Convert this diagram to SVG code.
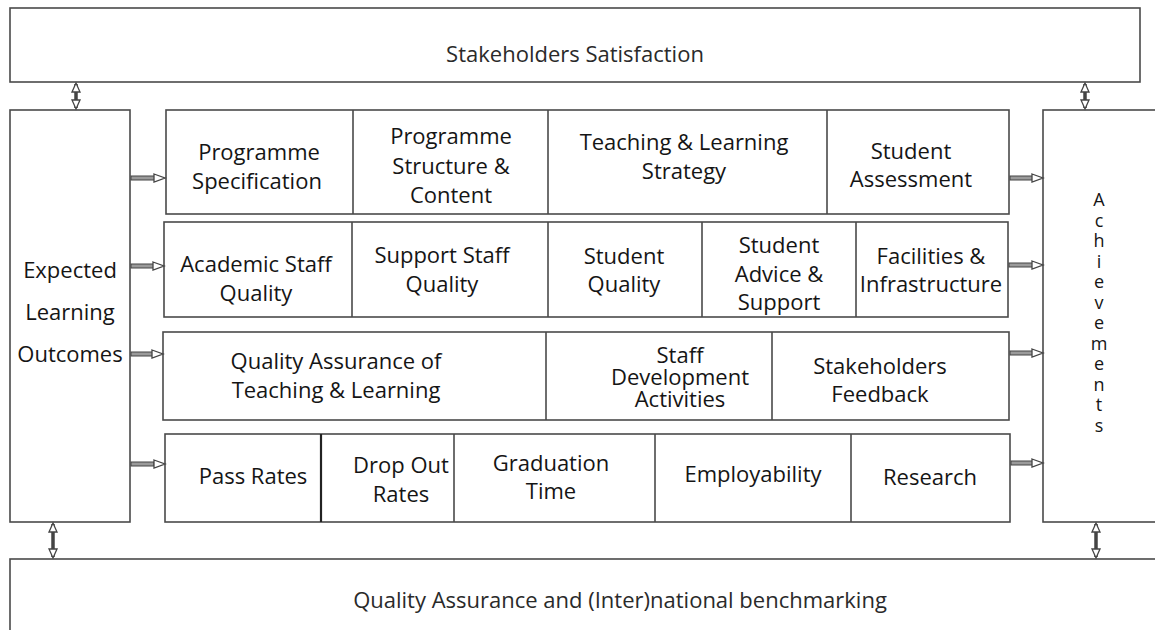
<svg xmlns="http://www.w3.org/2000/svg" width="1155" height="630" viewBox="0 0 1155 630">
<style>
.box{fill:#fff;stroke:#4a4a4a;stroke-width:1.6}
.div{stroke:#4a4a4a;stroke-width:1.6}
.t{font-family:"Open Sans","DejaVu Sans",sans-serif;font-size:22px;fill:#151515;text-anchor:middle}
.big{font-family:"Open Sans","DejaVu Sans",sans-serif;font-size:22px;fill:#2a2a2a;text-anchor:middle}
.v{font-family:"Open Sans","DejaVu Sans",sans-serif;font-size:18px;fill:#151515;text-anchor:middle}
.sh{fill:#9a9a9a;stroke:#444;stroke-width:1}
.hd{fill:#fff;stroke:#444;stroke-width:1.3}
.vs{stroke:#444;stroke-width:3.5}
</style>
<defs>
<marker id="vh" markerUnits="userSpaceOnUse" markerWidth="12" markerHeight="10" refX="9" refY="5" orient="auto-start-reverse" viewBox="0 0 12 10">
<path d="M1,1 L10,5 L1,9 Z" fill="#fff" stroke="#444" stroke-width="1.3"/>
</marker>
</defs>
<rect width="1155" height="630" fill="#fff"/>

<g id="stakeholders-satisfaction">
<rect class="box" x="10" y="8" width="1130" height="74"/>
<text class="big" x="575" y="62">Stakeholders Satisfaction</text>
</g>

<g id="expected-learning-outcomes">
<rect class="box" x="10" y="110" width="120" height="412"/>
<text class="t" x="70" y="278">Expected</text>
<text class="t" x="70" y="320">Learning</text>
<text class="t" x="70" y="362">Outcomes</text>
</g>

<g id="achievements">
<rect class="box" x="1043" y="110" width="140" height="412"/>
<text class="v" x="1099" y="206">A</text>
<text class="v" x="1099" y="227">c</text>
<text class="v" x="1099" y="247">h</text>
<text class="v" x="1099" y="268">i</text>
<text class="v" x="1099" y="288">e</text>
<text class="v" x="1099" y="309">v</text>
<text class="v" x="1099" y="329">e</text>
<text class="v" x="1099" y="350">m</text>
<text class="v" x="1099" y="370">e</text>
<text class="v" x="1099" y="391">n</text>
<text class="v" x="1099" y="411">t</text>
<text class="v" x="1099" y="432">s</text>
</g>

<g id="quality-assurance-benchmarking">
<rect class="box" x="10" y="559" width="1170" height="100"/>
<text class="big" x="620" y="608">Quality Assurance and (Inter)national benchmarking</text>
</g>

<g id="row1">
<rect class="box" x="166" y="110" width="843" height="104"/>
<line class="div" x1="353" y1="110" x2="353" y2="214"/>
<line class="div" x1="548" y1="110" x2="548" y2="214"/>
<line class="div" x1="827" y1="110" x2="827" y2="214"/>
<g id="programme-specification"><text class="t" x="259" y="160">Programme</text><text class="t" x="257" y="189">Specification</text></g>
<g id="programme-structure"><text class="t" x="451" y="144">Programme</text><text class="t" x="451" y="174">Structure &amp;</text><text class="t" x="451" y="203">Content</text></g>
<g id="teaching-learning-strategy"><text class="t" x="684" y="150">Teaching &amp; Learning</text><text class="t" x="684" y="179">Strategy</text></g>
<g id="student-assessment"><text class="t" x="911" y="159">Student</text><text class="t" x="911" y="187">Assessment</text></g>
</g>

<g id="row2">
<rect class="box" x="164" y="222" width="844" height="95"/>
<line class="div" x1="352" y1="222" x2="352" y2="317"/>
<line class="div" x1="548" y1="222" x2="548" y2="317"/>
<line class="div" x1="702" y1="222" x2="702" y2="317"/>
<line class="div" x1="856" y1="222" x2="856" y2="317"/>
<g id="academic-staff-quality"><text class="t" x="256" y="272">Academic Staff</text><text class="t" x="256" y="301">Quality</text></g>
<g id="support-staff-quality"><text class="t" x="442" y="263">Support Staff</text><text class="t" x="442" y="292">Quality</text></g>
<g id="student-quality"><text class="t" x="624" y="264">Student</text><text class="t" x="624" y="292">Quality</text></g>
<g id="student-advice-support"><text class="t" x="779" y="253">Student</text><text class="t" x="779" y="282">Advice &amp;</text><text class="t" x="779" y="310">Support</text></g>
<g id="facilities-infrastructure"><text class="t" x="931" y="264">Facilities &amp;</text><text class="t" x="931" y="292">Infrastructure</text></g>
</g>

<g id="row3">
<rect class="box" x="163" y="332" width="846" height="88"/>
<line class="div" x1="546" y1="332" x2="546" y2="420"/>
<line class="div" x1="772" y1="332" x2="772" y2="420"/>
<g id="qa-teaching-learning"><text class="t" x="336" y="369">Quality Assurance of</text><text class="t" x="336" y="398">Teaching &amp; Learning</text></g>
<g id="staff-development"><text class="t" x="680" y="363">Staff</text><text class="t" x="680" y="385">Development</text><text class="t" x="680" y="407">Activities</text></g>
<g id="stakeholders-feedback"><text class="t" x="880" y="374">Stakeholders</text><text class="t" x="880" y="402">Feedback</text></g>
</g>

<g id="row4">
<rect class="box" x="165" y="434" width="845" height="88"/>
<line class="div" x1="321" y1="434" x2="321" y2="522" style="stroke:#222;stroke-width:2.2"/>
<line class="div" x1="454" y1="434" x2="454" y2="522"/>
<line class="div" x1="655" y1="434" x2="655" y2="522"/>
<line class="div" x1="851" y1="434" x2="851" y2="522"/>
<g id="pass-rates"><text class="t" x="253" y="484">Pass Rates</text></g>
<g id="drop-out-rates"><text class="t" x="401" y="473">Drop Out</text><text class="t" x="401" y="502">Rates</text></g>
<g id="graduation-time"><text class="t" x="551" y="471">Graduation</text><text class="t" x="551" y="499">Time</text></g>
<g id="employability"><text class="t" x="753" y="482">Employability</text></g>
<g id="research"><text class="t" x="930" y="485">Research</text></g>
</g>

<g id="connectors">
<line class="vs" x1="76" y1="84" x2="76" y2="108" marker-start="url(#vh)" marker-end="url(#vh)"/>
<line class="vs" x1="1085" y1="84" x2="1085" y2="108" marker-start="url(#vh)" marker-end="url(#vh)"/>
<line class="vs" x1="53" y1="524" x2="53" y2="557" marker-start="url(#vh)" marker-end="url(#vh)"/>
<line class="vs" x1="1096" y1="524" x2="1096" y2="557" marker-start="url(#vh)" marker-end="url(#vh)"/>

<rect class="sh" x="131" y="176" width="24" height="4"/><path class="hd" d="M154,174 L165,178 L154,182 Z"/>
<rect class="sh" x="131" y="264" width="23" height="4"/><path class="hd" d="M153,262 L164,266 L153,270 Z"/>
<rect class="sh" x="131" y="352" width="22" height="4"/><path class="hd" d="M152,350 L163,354 L152,358 Z"/>
<rect class="sh" x="131" y="462" width="23" height="4"/><path class="hd" d="M154,460 L165,464 L154,468 Z"/>

<rect class="sh" x="1010" y="176" width="23" height="4"/><path class="hd" d="M1032,174 L1043,178 L1032,182 Z"/>
<rect class="sh" x="1009" y="263" width="24" height="4"/><path class="hd" d="M1032,261 L1043,265 L1032,269 Z"/>
<rect class="sh" x="1010" y="351" width="23" height="4"/><path class="hd" d="M1032,349 L1043,353 L1032,357 Z"/>
<rect class="sh" x="1011" y="461" width="22" height="4"/><path class="hd" d="M1032,459 L1043,463 L1032,467 Z"/>
</g>
</svg>
